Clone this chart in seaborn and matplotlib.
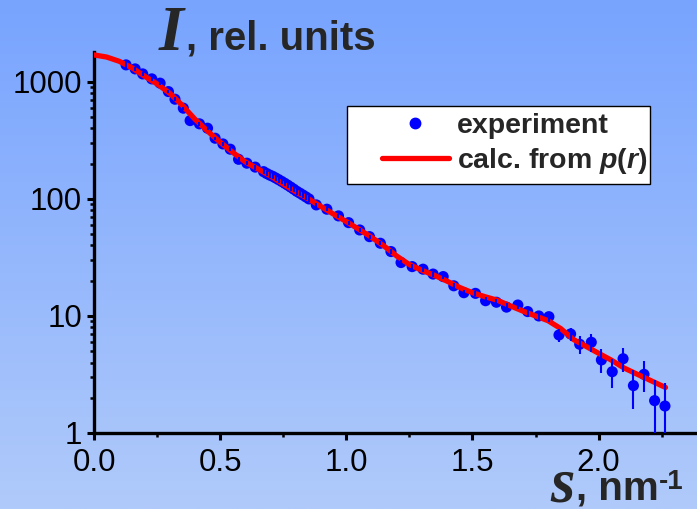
import numpy as np
import pandas as pd
import matplotlib
matplotlib.use("Agg")
import matplotlib.pyplot as plt
import seaborn as sns
from matplotlib.lines import Line2D
from matplotlib.patches import Rectangle
from matplotlib.ticker import MultipleLocator, LogLocator, NullFormatter

# ---------------- data ----------------
s_exp = [0.127, 0.163, 0.193, 0.229, 0.262, 0.295, 0.321, 0.354, 0.381, 0.418, 0.450, 0.480,
         0.511, 0.540, 0.573, 0.606, 0.639, 0.672,
         0.684, 0.696, 0.708, 0.720, 0.732, 0.744, 0.756, 0.768, 0.780, 0.792, 0.804, 0.816,
         0.828, 0.840, 0.852,
         0.881, 0.923, 0.969, 1.009, 1.053, 1.092, 1.135, 1.177, 1.217, 1.261, 1.304, 1.344,
         1.384, 1.426, 1.466, 1.512, 1.552, 1.595, 1.635, 1.680, 1.719, 1.763, 1.803, 1.843,
         1.889, 1.925, 1.971, 2.011, 2.054, 2.097, 2.138, 2.180, 2.222, 2.263]
i_exp = [1397, 1291, 1170, 1061, 975, 826, 711, 596, 467, 438, 402, 330, 295, 266, 218, 202, 187, 171,
         165, 160, 156, 151, 146, 141, 136, 131, 126, 121, 116, 112, 108, 104, 100,
         88.9, 81.7, 71.6, 62.7, 54.3, 47.6, 41.8, 35.5, 28.6, 26.4, 25.1, 22.8, 21.7, 18.1, 15.8,
         15.6, 13.5, 13.1, 11.9, 12.4, 10.9, 10.0, 9.86, 6.88, 7.02, 5.73, 5.96, 4.21, 3.34, 4.31,
         2.54, 3.17, 1.89, 1.70]
err_exp = [120, 60, 45, 40, 35, 30, 25, 20, 17, 15, 13, 11, 10, 9, 8, 8, 9, 9,
           9, 9, 9, 9, 8, 8, 8, 8, 8, 7, 7, 7, 7, 6, 6,
           3.5, 3.2, 2.8, 2.5, 2.2, 2.0, 1.8, 1.6, 1.4, 1.3, 1.2, 1.1, 1.1, 1.0, 0.9, 0.9, 0.9,
           0.9, 0.9, 0.9, 0.9, 0.9, 0.9, 0.9, 0.9, 1.0, 1.0, 0.98, 0.92, 1.0, 0.93, 0.95, 0.95, 0.96]

s_calc = [0.00, 0.05, 0.10, 0.15, 0.20, 0.25, 0.30, 0.35, 0.40, 0.45, 0.50, 0.55, 0.60, 0.65,
          0.70, 0.75, 0.80, 0.85, 0.90, 0.95, 1.00, 1.05, 1.10, 1.15, 1.20, 1.25, 1.30, 1.35,
          1.40, 1.45, 1.50, 1.55, 1.60, 1.65, 1.70, 1.75, 1.80, 1.85, 1.90, 1.95, 2.00, 2.05,
          2.10, 2.15, 2.20, 2.265]
i_calc = [1700, 1630, 1500, 1320, 1120, 960, 800, 630, 480, 380, 305, 250, 207, 180,
          157, 134, 115, 100, 86, 74, 64, 55, 47, 39.5, 32.5, 27.5, 24.5, 22.2,
          19.8, 17.5, 15.8, 14.6, 13.6, 12.2, 11.0, 10.0, 9.1, 7.8, 6.3, 5.5, 4.8, 4.2,
          3.6, 3.2, 2.85, 2.45]

x_ticks = [0.0, 0.5, 1.0, 1.5, 2.0]
x_tick_labels = ["0.0", "0.5", "1.0", "1.5", "2.0"]
y_ticks = [1, 10, 100, 1000]
y_tick_labels = ["1", "10", "100", "1000"]
legend_labels = ["experiment", "calc. from $p$($r$)"]

# ---------------- style ----------------
sns.set_style("ticks")
plt.rcParams["font.family"] = ["Liberation Sans", "DejaVu Sans"]
plt.rcParams["mathtext.fontset"] = "custom"
plt.rcParams["mathtext.it"] = "Liberation Sans:bold:italic"
plt.rcParams["mathtext.rm"] = "Liberation Sans:bold"
plt.rcParams["mathtext.bf"] = "Liberation Sans:bold"

W, H = 697, 509
fig = plt.figure(figsize=(W / 100, H / 100), dpi=100)

# gradient background
bg = fig.add_axes([0, 0, 1, 1], zorder=-10)
g = np.linspace(0, 1, 256).reshape(-1, 1, 1)
top = np.array([120, 164, 255]) / 255
bot = np.array([176, 202, 250]) / 255
img = top + (bot - top) * g
bg.imshow(img, aspect="auto", extent=[0, 1, 0, 1])
bg.axis("off")

ax = fig.add_axes([94 / W, (H - 433) / H, (W - 94) / W, (433 - 52) / H])
ax.patch.set_alpha(0)
ax.set_yscale("log")

df_exp = pd.DataFrame({"s": s_exp, "I": i_exp, "err": err_exp})
df_calc = pd.DataFrame({"s": s_calc, "I": i_calc})

BLUE = "#0000ff"
sns.scatterplot(data=df_exp, x="s", y="I", ax=ax, color=BLUE, s=64,
                edgecolor="none", linewidth=0, zorder=3, legend=False)
sns.lineplot(data=df_calc, x="s", y="I", ax=ax, color="#ff0000", lw=3.8,
             zorder=4, legend=False)
ax.errorbar(df_exp["s"], df_exp["I"], yerr=df_exp["err"], fmt="none",
            ecolor=BLUE, elinewidth=1.5, capsize=0, zorder=5)

ax.set_xlim(0, 2.39)
ax.set_ylim(1, 1800)
ax.set_xlabel("")
ax.set_ylabel("")

ax.set_xticks(x_ticks, x_tick_labels)
ax.xaxis.set_minor_locator(MultipleLocator(0.25))
ax.set_yticks(y_ticks, y_tick_labels)
ax.yaxis.set_minor_locator(LogLocator(base=10, subs=range(2, 10)))
ax.yaxis.set_minor_formatter(NullFormatter())

ax.tick_params(axis="both", which="major", direction="out", length=5, width=2.2,
               color="black", labelsize=22.5, labelcolor="black")
ax.tick_params(axis="x", which="major", pad=6)
ax.tick_params(axis="y", which="major", pad=3.5)
ax.tick_params(axis="both", which="minor", direction="out", length=3, width=1.8, color="black")

for sp in ["top", "right"]:
    ax.spines[sp].set_visible(False)
for sp in ["left", "bottom"]:
    ax.spines[sp].set_linewidth(2.4)
    ax.spines[sp].set_color("black")

# legend box
rect = Rectangle((347 / W, 1 - 184 / H), (650 - 347) / W, (184 - 106) / H,
                 transform=fig.transFigure, facecolor="white", edgecolor="black",
                 lw=1.0, zorder=6, clip_on=False)
ax.add_patch(rect)
handles = [Line2D([], [], marker="o", color=BLUE, ls="none", markersize=7.5),
           Line2D([], [], color="#ff0000", lw=3.8)]
leg = ax.legend(handles, legend_labels, loc="upper left",
                bbox_to_anchor=(382 / W, 1 - 113 / H), bbox_transform=fig.transFigure,
                frameon=False, borderpad=0, borderaxespad=0, handlelength=2.34,
                handletextpad=0.3, labelspacing=0.25,
                prop={"family": "Liberation Sans", "weight": "bold", "size": 20.5})
leg.set_zorder(7)

# title pieces
fig.text(159 / W, 1 - 50 / H, "I", ha="left", va="baseline", family="Liberation Serif",
         style="italic", weight="bold", size=46)
fig.text(186 / W, 1 - 50 / H, ", rel. units", ha="left", va="baseline",
         family="Liberation Sans", weight="bold", size=29)

# x label pieces
fig.text(550 / W, 1 - 501 / H, "s", ha="left", va="baseline", family="Liberation Serif",
         style="italic", weight="bold", size=45)
fig.text(576 / W, 1 - 500 / H, ", nm", ha="left", va="baseline",
         family="Liberation Sans", weight="bold", size=29)
fig.text(659 / W, 1 - 489 / H, "-1", ha="left", va="baseline",
         family="Liberation Sans", weight="bold", size=20)

fig.savefig("out.png", dpi=100)
